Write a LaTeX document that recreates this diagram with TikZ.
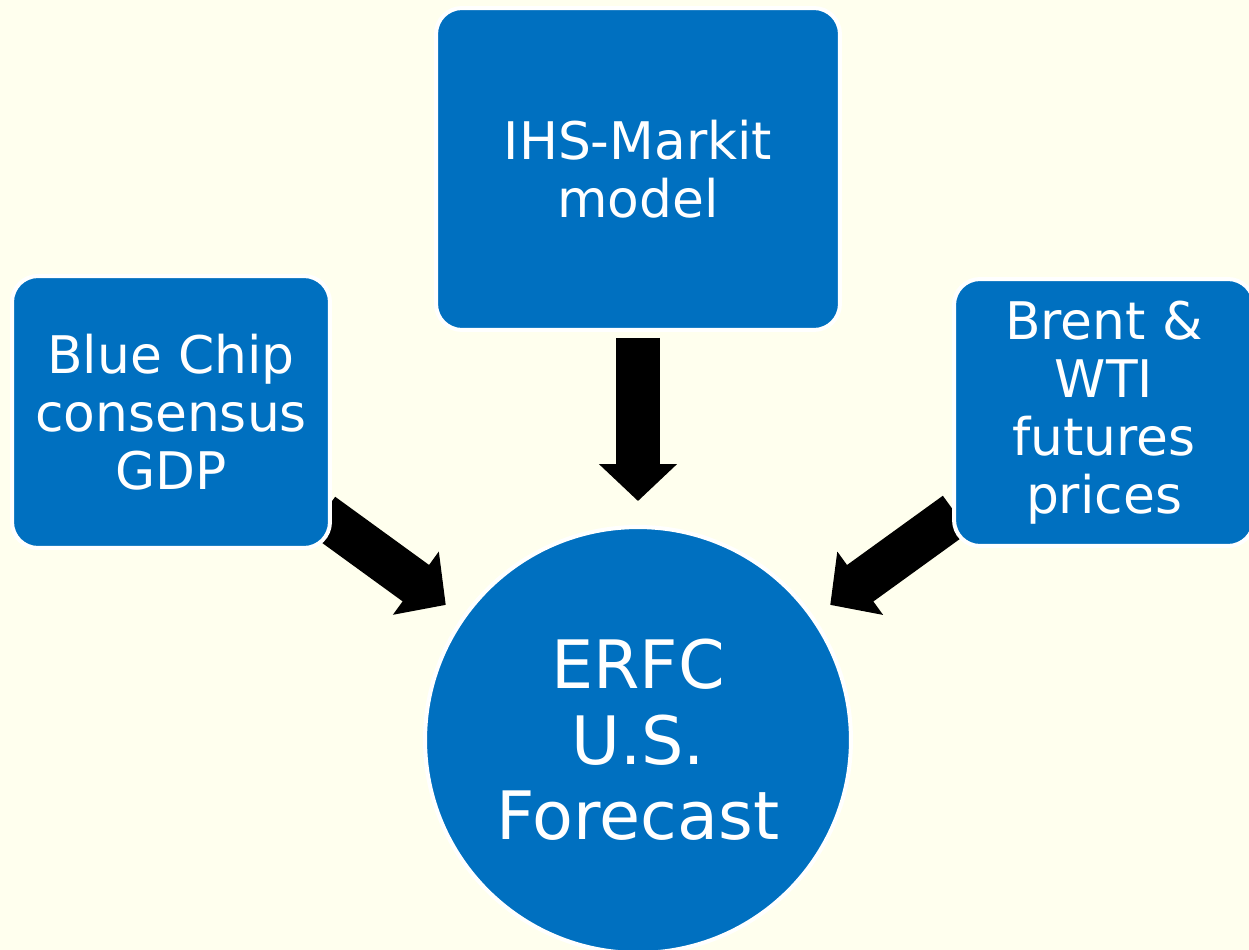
\documentclass[tikz,border=0pt]{standalone}
\usepackage{fontspec}
\setmainfont{DejaVu Sans}
\usetikzlibrary{calc,arrows.meta}
\definecolor{paper}{HTML}{FFFFEE}
\definecolor{boxblue}{HTML}{0070C0}
\pgfdeclarelayer{back}
\pgfsetlayers{back,main}
\tikzset{
	srcbox/.style={rectangle, rounded corners=0.52cm, draw=white, line width=0.08cm, fill=boxblue, text=white, align=center, inner sep=0pt, font=\fontsize{29.5}{33}\selectfont},
	goal/.style={circle, draw=white, line width=0.08cm, fill=boxblue, text=white, align=center, inner sep=0pt, minimum size=8.52cm, font=\fontsize{38}{43}\selectfont},
	fatarrow/.style={line width=0.9cm, -{Triangle[length=0.74cm,width=1.52cm]}}
}

\begin{document}
\begin{tikzpicture}[x=0.02cm, y=0.02cm]
			%%%%% START %%%%%
			
			\useasboundingbox (0, 0) rectangle (1249, -950);
			\begin{pgfonlayer}{back}
				\fill[paper] (0, 0) rectangle (1249, -950);
			\end{pgfonlayer}
			
			% sources
			\node[srcbox, minimum width=6.36cm, minimum height=5.44cm] (bluechip) at (171, -412) {Blue Chip\\consensus\\GDP};
			\node[srcbox, minimum width=8.08cm, minimum height=6.44cm] (ihs) at (638, -169) {IHS-Markit\\model};
			\node[srcbox, minimum width=6.0cm, minimum height=5.34cm] (brent) at (1104, -412.5) {Brent \&\\WTI\\futures\\prices};
			
			% forecast
			\node[goal] (erfc) at (638, -740) {ERFC\\U.S.\\Forecast};
			
			% arrows go under the boxes
			\begin{pgfonlayer}{back}
				\draw[fatarrow] ($(ihs.south)+(0, -6)$) -- ($(erfc.north)+(0, 24)$);
				\draw[fatarrow] ($(bluechip.south east)+(-10, 35)$) -- ($(erfc.center)+(144.9:4.7cm)$);
				\draw[fatarrow] ($(brent.south west)+(4, 34)$) -- ($(erfc.center)+(35.1:4.7cm)$);
			\end{pgfonlayer}
			
			%%%%% END %%%%%
\end{tikzpicture}
\end{document}
